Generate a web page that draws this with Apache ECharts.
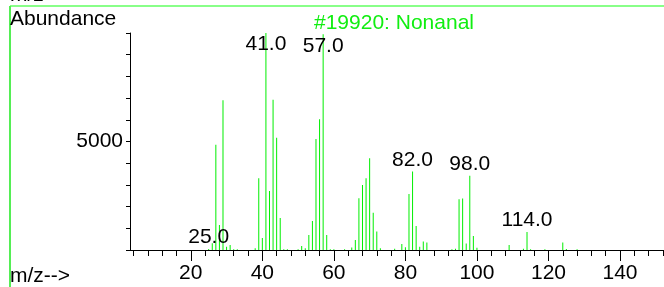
<!DOCTYPE html>
<html>
<head>
<meta charset="utf-8">
<script src="https://cdn.jsdelivr.net/npm/echarts@6/dist/echarts.min.js"></script>
<style>
  html, body { margin: 0; padding: 0; background: #fff; }
  #main { width: 664px; height: 287px; }
</style>
</head>
<body>
<div id="main"></div>
<script>
// mass spectrum of nonanal, m/z against abundance
var mz = [25, 26, 27, 28, 29, 30, 31, 32, 33, 38, 39, 40, 41, 42, 43, 44, 45, 46, 47, 50,
  51, 52, 53, 54, 55, 56, 57, 58, 59, 60, 63, 65, 66, 67, 68, 69, 70, 71, 72, 73, 77,
  79, 80, 81, 82, 83, 84, 85, 86, 93, 94, 95, 96, 97, 98, 99, 100, 109, 113, 114, 115,
  119, 124, 125, 128];
var abundance = [50, 310, 4850, 1150, 6900, 150, 230, 40, 30, 80, 3310, 550, 10000, 2720, 6920, 5170, 1480, 40, 30, 30,
  180, 80, 690, 1340, 5120, 6030, 9940, 690, 40, 30, 30, 110, 460, 2380, 3000, 3310, 4230, 1720, 850, 80, 60,
  280, 130, 2580, 3620, 1110, 150, 390, 340, 40, 60, 2340, 2370, 300, 3420, 650, 100, 230, 60, 830, 40,
  30, 350, 50, 30];
var labelledPeaks = [25, 41, 57, 82, 98, 114];
var xMajorTicks = [20, 40, 60, 80, 100, 120, 140];
var yTickLabels = [5000];

var xMinorTicks = [];
for (var t = 4; t <= 152; t += 4) xMinorTicks.push(t);

var font = 'Liberation Sans, Arial, sans-serif';

var data = mz.map(function (m, i) {
  var item = { value: [m, abundance[i]] };
  if (labelledPeaks.indexOf(m) >= 0) {
    item.label = { show: true };
    // the two biggest peaks have their labels pushed down inside the plot
    if (abundance[i] > 9000) item.label.position = 'insideTop';
  }
  return item;
});

var chart = echarts.init(document.getElementById('main'), null, { renderer: 'canvas' });

var option = {
  animation: false,
  grid: { left: 130, right: 0, top: 33, bottom: 37 },
  xAxis: [{
    type: 'value',
    min: 3,
    max: 152.3,
    axisLine: { lineStyle: { color: '#000', width: 1 } },
    axisTick: { customValues: xMinorTicks, length: 6, lineStyle: { color: '#000' } },
    axisLabel: { show: false },
    splitLine: { show: false }
  }, {
    type: 'value',
    position: 'bottom',
    min: 3,
    max: 152.3,
    axisLine: { show: false },
    axisTick: { customValues: xMajorTicks, length: 11, lineStyle: { color: '#000' } },
    axisLabel: {
      customValues: xMajorTicks,
      color: '#000', fontSize: 21, fontFamily: font, margin: 13
    },
    splitLine: { show: false }
  }],
  yAxis: {
    type: 'value',
    min: 0,
    max: 10000,
    interval: 1000,
    axisLine: { show: true, lineStyle: { color: '#000', width: 1 } },
    axisTick: { show: true, length: 4, lineStyle: { color: '#000' } },
    axisLabel: {
      customValues: yTickLabels,
      formatter: function (v) { return String(v); },
      color: '#000', fontSize: 21, fontFamily: font, margin: 7
    },
    splitLine: { show: false }
  },
  series: [{
    type: 'bar',
    barWidth: 1,
    data: data,
    itemStyle: { color: '#00ee00' },
    label: {
      show: false,
      position: 'top',
      distance: 1,
      color: '#000',
      fontSize: 21,
      fontFamily: font,
      formatter: function (p) { return p.value[0].toFixed(1); }
    }
  }],
  graphic: [
    { type: 'line', shape: { x1: 10, y1: 6, x2: 664, y2: 6 }, style: { stroke: '#88ff88', lineWidth: 2 } },
    { type: 'line', shape: { x1: 10, y1: 6, x2: 10, y2: 287 }, style: { stroke: '#55ee55', lineWidth: 2 } },
    { type: 'text', left: 10, top: -15, style: { text: 'm/z-->', fill: '#000', font: '21px ' + font } },
    { type: 'text', left: 10, top: 9, style: { text: 'Abundance', fill: '#000', font: '21px ' + font } },
    { type: 'text', left: 314, top: 13, style: { text: '#19920: Nonanal', fill: '#11ee11', font: '21px ' + font } },
    { type: 'text', left: 10, top: 266, style: { text: 'm/z-->', fill: '#000', font: '21px ' + font } }
  ]
};

chart.setOption(option);
</script>
</body>
</html>
